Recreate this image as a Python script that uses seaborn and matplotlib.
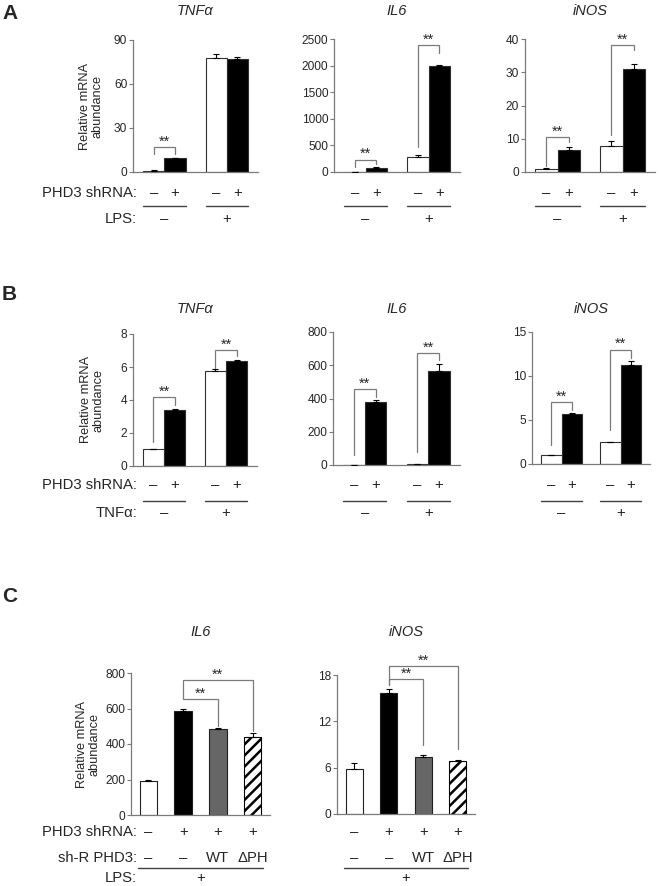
import numpy as np
import pandas as pd
import matplotlib
matplotlib.use('Agg')
import matplotlib.pyplot as plt
import matplotlib.transforms as mtransforms
import seaborn as sns

# ------------------------------------------------------------------ data
stim_levels = ['–', '+']          # LPS / TNFα treatment
sh_levels = ['–', '+']            # PHD3 shRNA

# Panel A (LPS); order: (stim–,sh–), (stim–,sh+), (stim+,sh–), (stim+,sh+)
a_tnf = [1.0, 9.5, 77.5, 77.0]
a_tnf_err = [0.2, 0.3, 2.7, 1.4]
a_tnf_ticks = [0, 30, 60, 90]
a_tnf_br = [[12.3, 12.3, 17.0], None]          # [left leg end, right leg end, top]

a_il6 = [5, 76, 290, 2000]
a_il6_err = [2, 10, 38, 15]
a_il6_ticks = [0, 500, 1000, 1500, 2000, 2500]
a_il6_br = [[94, 157, 233], [472, 2235, 2393]]

a_inos = [1.0, 6.5, 7.9, 31.0]
a_inos_err = [0.1, 1.1, 1.5, 1.4]
a_inos_ticks = [0, 10, 20, 30, 40]
a_inos_br = [[1.8, 9.1, 10.6], [11.1, 36.8, 38.3]]

# Panel B (TNFα)
b_tnf = [1.0, 3.4, 5.73, 6.35]
b_tnf_err = [0.02, 0.05, 0.12, 0.05]
b_tnf_ticks = [0, 2, 4, 6, 8]
b_tnf_br = [[1.48, 3.7, 4.19], [5.93, 6.64, 7.05]]

b_il6 = [2, 380, 5, 563]
b_il6_err = [0, 12, 1, 45]
b_il6_ticks = [0, 200, 400, 600, 800]
b_il6_br = [[60, 412, 456], [80, 633, 673]]

b_inos = [1.0, 5.7, 2.5, 11.3]
b_inos_err = [0.05, 0.1, 0.05, 0.35]
b_inos_ticks = [0, 5, 10, 15]
b_inos_br = [[2.2, 6.1, 7.05], [3.9, 12.1, 13.0]]

# Panel C (LPS +, rescue)
c_sh = ['–', '+', '+', '+']
c_shR = ['–', '–', 'WT', 'ΔPH']
c_conds = ['ctrl', 'sh', 'WT', 'dPH']
c_il6 = [190, 585, 485, 442]
c_il6_err = [5, 15, 5, 18]
c_il6_ticks = [0, 200, 400, 600, 800]
c_il6_br = [[1, 2, 697, 499, 655], [1, 3, 697, 471, 759]]
c_inos = [5.8, 15.7, 7.35, 6.9]
c_inos_err = [0.8, 0.45, 0.35, 0.1]
c_inos_ticks = [0, 6, 12, 18]
c_inos_br = [[1, 2, 16.7, 9.0, 17.5], [1, 3, 16.7, 8.4, 19.2]]

# ------------------------------------------------------------------ style
sns.set_style('white')
plt.rcParams['font.family'] = ['Liberation Sans', 'DejaVu Sans']
plt.rcParams['hatch.linewidth'] = 1.8
GRAY = '#7a7a7a'
W, H = 660, 886
FS_ROW = 10.7
FS_TITLE = 10.5

fig = plt.figure(figsize=(W / 100, H / 100), dpi=100)


def fy(ypx):
    return 1 - ypx / H


def ftext(xpx, ypx, s, **kw):
    fig.text(xpx / W, fy(ypx), s, **kw)


def make_ax(left, right, top, bottom, c0, c1, n):
    ax = fig.add_axes([left / W, fy(bottom), (right - left) / W, (bottom - top) / H])
    unit = (c1 - c0) / (n - 1)
    ax.set_xlim((left - c0) / unit, (n - 1) + (right - c1) / unit)
    return ax


def style_ax(ax, ticks):
    ax.set_ylim(0, ticks[-1])
    ax.set_yticks(ticks)
    ax.set_xticks([])
    ax.set_xlabel('')
    ax.set_ylabel('')
    for sp in ['top', 'right']:
        ax.spines[sp].set_visible(False)
    for sp in ['left', 'bottom']:
        ax.spines[sp].set_color(GRAY)
        ax.spines[sp].set_linewidth(0.9)
    ax.tick_params(axis='y', direction='out', length=3, width=0.8, color=GRAY,
                   labelsize=8.6, pad=1.2, left=True)
    ax.patch.set_alpha(0)


def bracket(ax, x1, x2, lb, rb, top):
    ax.plot([x1, x1, x2, x2], [lb, top, top, rb], color=GRAY, lw=0.9,
            clip_on=False, solid_joinstyle='miter')
    ax.annotate('**', xy=((x1 + x2) / 2, top), xytext=(0, -1.2),
                textcoords='offset points', ha='center', va='bottom',
                fontsize=10.5, annotation_clip=False)


def pair_panel(ax, vals, errs, ticks, brs, rows, first, stim_label):
    df = pd.DataFrame({
        'stim': [s for s in stim_levels for _ in sh_levels],
        'sh': [h for _ in stim_levels for h in sh_levels],
        'val': vals,
    })
    sns.barplot(data=df, x='stim', y='val', hue='sh', order=stim_levels,
                hue_order=sh_levels, palette=['white', 'black'], width=0.68,
                edgecolor='#303030', linewidth=0.8, errorbar=None, legend=False,
                ax=ax)
    style_ax(ax, ticks)
    # bar geometry from the library's containers
    bars = {}
    for hi, cont in enumerate(ax.containers[:2]):
        for si, p in enumerate(cont.patches):
            bars[(si, hi)] = p
    xs, ys, es = [], [], []
    for si in range(2):
        for hi in range(2):
            p = bars[(si, hi)]
            xs.append(p.get_x() + p.get_width() / 2)
            ys.append(vals[si * 2 + hi])
            es.append(errs[si * 2 + hi])
    ax.errorbar(xs, ys, yerr=[np.zeros(4), es], fmt='none', ecolor='black',
                elinewidth=0.8, capsize=2, capthick=0.8, zorder=5)
    for si, br in enumerate(brs):
        if br is not None:
            bracket(ax, xs[si * 2], xs[si * 2 + 1], br[0], br[1], br[2])
    tr = mtransforms.blended_transform_factory(ax.transData, fig.transFigure)
    y_row1, y_line, y_row2 = rows
    for si in range(2):
        for hi in range(2):
            ax.text(xs[si * 2 + hi], fy(y_row1), sh_levels[hi], transform=tr,
                    ha='center', va='baseline', fontsize=FS_ROW)
        pl = bars[(si, 0)]
        pr = bars[(si, 1)]
        x0 = pl.get_x()
        x1 = pr.get_x() + pr.get_width()
        ax.plot([x0, x1], [fy(y_line), fy(y_line)], transform=tr, color='#404040',
                lw=1.0, clip_on=False)
        ax.text((xs[si * 2] + xs[si * 2 + 1]) / 2, fy(y_row2), stim_levels[si],
                transform=tr, ha='center', va='baseline', fontsize=FS_ROW)
    if first:
        ftext(137, y_row1, 'PHD3 shRNA:', ha='right', va='baseline', fontsize=FS_ROW)
        ftext(137, y_row2, stim_label, ha='right', va='baseline', fontsize=FS_ROW)


def title(ax, ypx, s):
    pos = ax.get_position()
    fig.text((pos.x0 + pos.x1) / 2, fy(ypx), s, ha='center', va='baseline',
             fontsize=FS_TITLE, style='italic')


def ylab(xpx, ax):
    pos = ax.get_position()
    fig.text(xpx / W, (pos.y0 + pos.y1) / 2, 'Relative mRNA\nabundance',
             rotation=90, ha='center', va='center', multialignment='center',
             fontsize=9.2, linespacing=1.05)


# ---------------------------------------------------------------- panel A
rowsA = (197, 206, 223)
axA1 = make_ax(133, 258, 40, 172, 166, 228, 2)
pair_panel(axA1, a_tnf, a_tnf_err, a_tnf_ticks, a_tnf_br, rowsA, True, 'LPS:')
axA2 = make_ax(334, 460, 39, 172, 367, 430, 2)
pair_panel(axA2, a_il6, a_il6_err, a_il6_ticks, a_il6_br, rowsA, False, 'LPS:')
axA3 = make_ax(525, 655, 39, 172, 565, 628, 2)
pair_panel(axA3, a_inos, a_inos_err, a_inos_ticks, a_inos_br, rowsA, False, 'LPS:')
for ax, s in zip([axA1, axA2, axA3], ['TNFα', 'IL6', 'iNOS']):
    title(ax, 15, s)
ylab(91, axA1)
ftext(2, 19, 'A', fontsize=15, fontweight='bold', va='baseline')

# ---------------------------------------------------------------- panel B
rowsB = (489, 501, 517)
axB1 = make_ax(133, 257, 334, 466, 163, 226, 2)
pair_panel(axB1, b_tnf, b_tnf_err, b_tnf_ticks, b_tnf_br, rowsB, True, 'TNFα:')
axB2 = make_ax(333, 460, 332, 465, 367, 429, 2)
pair_panel(axB2, b_il6, b_il6_err, b_il6_ticks, b_il6_br, rowsB, False, 'TNFα:')
axB3 = make_ax(532, 650, 332, 464, 563, 625, 2)
pair_panel(axB3, b_inos, b_inos_err, b_inos_ticks, b_inos_br, rowsB, False, 'TNFα:')
for ax, s in zip([axB1, axB2, axB3], ['TNFα', 'IL6', 'iNOS']):
    title(ax, 313, s)
ylab(92, axB1)
ftext(2, 300, 'B', fontsize=15, fontweight='bold', va='baseline')


# ---------------------------------------------------------------- panel C
def rescue_panel(ax, vals, errs, ticks, brs, first):
    df = pd.DataFrame({'cond': c_conds, 'val': vals})
    sns.barplot(data=df, x='cond', y='val', hue='cond', order=c_conds,
                hue_order=c_conds, palette=['white', 'black', '#666666', 'white'],
                width=0.5, edgecolor='#202020', linewidth=0.8, errorbar=None,
                legend=False, ax=ax)
    style_ax(ax, ticks)
    patches = sorted([p for p in ax.patches if p.get_height() > 0],
                     key=lambda p: p.get_x())
    patches[3].set_hatch('///')
    patches[3].set_edgecolor('black')
    xs = [p.get_x() + p.get_width() / 2 for p in patches]
    ax.errorbar(xs, vals, yerr=[np.zeros(len(vals)), errs], fmt='none',
                ecolor='black', elinewidth=0.8, capsize=2, capthick=0.8, zorder=5)
    for br in brs:
        bracket(ax, xs[br[0]], xs[br[1]], br[2], br[3], br[4])
    tr = mtransforms.blended_transform_factory(ax.transData, fig.transFigure)
    for i in range(4):
        ax.text(xs[i], fy(836), c_sh[i], transform=tr, ha='center',
                va='baseline', fontsize=FS_ROW)
        ax.text(xs[i], fy(862), c_shR[i], transform=tr, ha='center',
                va='baseline', fontsize=FS_ROW)
    x0 = patches[0].get_x() - 0.05
    x1 = patches[-1].get_x() + patches[-1].get_width() + 0.05
    ax.plot([x0, x1], [fy(868), fy(868)], transform=tr, color='#404040', lw=1.0,
            clip_on=False)
    ax.text((xs[0] + xs[-1]) / 2, fy(882), '+', transform=tr, ha='center',
            va='baseline', fontsize=FS_ROW)
    if first:
        ftext(137, 836, 'PHD3 shRNA:', ha='right', va='baseline', fontsize=FS_ROW)
        ftext(137, 862, 'sh-R PHD3:', ha='right', va='baseline', fontsize=FS_ROW)
        ftext(137, 882, 'LPS:', ha='right', va='baseline', fontsize=FS_ROW)


axC1 = make_ax(131, 270, 673, 815, 150, 253, 4)
rescue_panel(axC1, c_il6, c_il6_err, c_il6_ticks, c_il6_br, True)
axC2 = make_ax(337, 475, 675, 814, 355.5, 458, 4)
rescue_panel(axC2, c_inos, c_inos_err, c_inos_ticks, c_inos_br, False)
title(axC1, 636, 'IL6')
title(axC2, 636, 'iNOS')
ylab(88, axC1)
ftext(2, 602, 'C', fontsize=15, fontweight='bold', va='baseline')

fig.savefig('out.png', dpi=100, facecolor='white')
